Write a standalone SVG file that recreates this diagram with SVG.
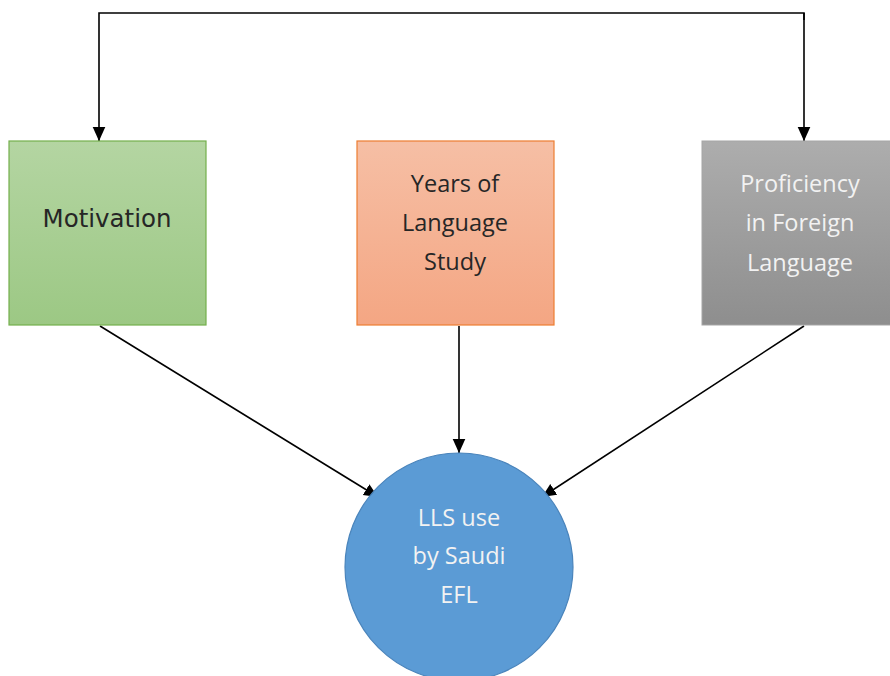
<svg xmlns="http://www.w3.org/2000/svg" width="890" height="676" viewBox="0 0 890 676">
<style>
.conn{stroke:#000;stroke-width:1.6;fill:none}
.t{font-family:"Open Sans","Liberation Sans",sans-serif;font-size:23.5px;text-anchor:middle}
.dark{fill:#262626}
.light{fill:#f2f2f2}
</style>
<defs>
<linearGradient id="gG" x1="0" y1="0" x2="0" y2="1"><stop offset="0" stop-color="#b4d5a2"/><stop offset="1" stop-color="#9cc884"/></linearGradient>
<linearGradient id="gO" x1="0" y1="0" x2="0" y2="1"><stop offset="0" stop-color="#f6bfa5"/><stop offset="1" stop-color="#f4a683"/></linearGradient>
<linearGradient id="gS" x1="0" y1="0" x2="0" y2="1"><stop offset="0" stop-color="#adadad"/><stop offset="1" stop-color="#8e8e8e"/></linearGradient>
<marker id="ah" viewBox="0 0 10 10" refX="10" refY="5" markerWidth="14" markerHeight="14" markerUnits="userSpaceOnUse" orient="auto">
<path d="M0,0.5 L10,5 L0,9.5 z" fill="#000"/>
</marker>
</defs>
<rect width="890" height="676" fill="#fff"/>
<g id="connectors">
<polyline class="conn" points="804,20 804,13 99,13 99,141" marker-end="url(#ah)"/>
<line class="conn" x1="804" y1="13" x2="804" y2="141" marker-end="url(#ah)"/>
<line class="conn" x1="100" y1="326" x2="378" y2="497" marker-end="url(#ah)"/>
<line class="conn" x1="459" y1="326" x2="459" y2="453" marker-end="url(#ah)"/>
<line class="conn" x1="804" y1="326" x2="542" y2="497" marker-end="url(#ah)"/>
</g>
<g id="motivation">
<rect x="9" y="141" width="197" height="184" fill="url(#gG)" stroke="#74b04c" stroke-width="1.2"/>
<text class="dark" x="107" y="227" text-anchor="middle" style="font-family:'DejaVu Sans',sans-serif;font-size:24.5px">Motivation</text>
</g>
<g id="years">
<rect x="357" y="141" width="197" height="184" fill="url(#gO)" stroke="#ed7d31" stroke-width="1.2"/>
<text class="t dark" x="455" y="192">Years of</text>
<text class="t dark" x="455" y="231">Language</text>
<text class="t dark" x="455" y="270">Study</text>
</g>
<g id="proficiency">
<rect x="702" y="141" width="190" height="184" fill="url(#gS)" stroke="#a5a5a5" stroke-width="1"/>
<text class="t light" x="800" y="192">Proficiency</text>
<text class="t light" x="800" y="231">in Foreign</text>
<text class="t light" x="800" y="271">Language</text>
</g>
<g id="lls">
<circle cx="459" cy="567" r="114" fill="#5b9bd5" stroke="#4a84bb" stroke-width="1.2"/>
<text class="t light" x="459" y="526">LLS use</text>
<text class="t light" x="459" y="564">by Saudi</text>
<text class="t light" x="459" y="603">EFL</text>
</g>
</svg>
